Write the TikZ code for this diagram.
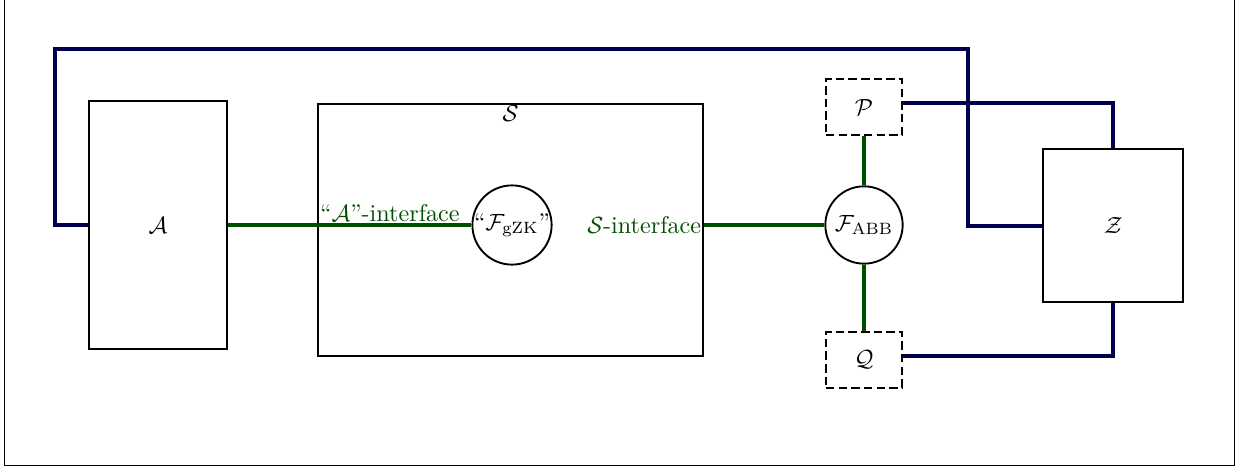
\documentclass[tikz,border=0pt]{standalone}
\usepackage{tikz}
\usetikzlibrary{positioning}

\definecolor{ifacegreen}{RGB}{0,78,0}
\definecolor{envblue}{RGB}{0,0,78}

\begin{document}
\begin{tikzpicture}[
  font=\fontsize{10.3pt}{12.4pt}\selectfont,
  box/.style={draw, thick, minimum width=#1},
  dbox/.style={draw, thick, dash pattern=on 3.6pt off 1.8pt, minimum width=1.14cm, minimum height=0.84cm},
  func/.style={draw, thick, circle, inner sep=0pt, minimum size=1.16cm},
  link/.style={ultra thick, draw=ifacegreen},
  env/.style={ultra thick, draw=envblue},
  iface/.style={text=ifacegreen, inner sep=1pt}]
\useasboundingbox (0,0) rectangle (18.6,7.035);
\draw (0.06,0.06) rectangle (18.51,7.06);

\node[box=2.07cm, minimum height=3.73cm] (A) at (2.37,3.66) {$\mathcal{A}$};
\node[box=5.77cm, minimum height=3.78cm] (S) at (7.66,3.585) {};
\node[anchor=north, inner sep=1pt] (Slabel) at (S.north) {$\mathcal{S}$};
\node[func] (gzk) at (7.68,3.66) {``$\mathcal{F}_{\mathrm{gZK}}$''};
\node[func] (abb) at (12.96,3.66) {$\mathcal{F}_{\mathrm{ABB}}$};
\node[dbox] (P) at (12.96,5.43) {$\mathcal{P}$};
\node[dbox] (Q) at (12.96,1.64) {$\mathcal{Q}$};
\node[box=2.1cm, minimum height=2.3cm] (Z) at (16.7,3.65) {$\mathcal{Z}$};

\coordinate (topleft) at (0.83,6.3);
\coordinate (topright) at (14.52,6.3);

% environment wires
\draw[env] (A.west) -| (topleft) -- (topright) |- (Z.west);
\draw[env] ([yshift=1.7pt]P.east) -| (Z.north);
\draw[env] ([yshift=1.7pt]Q.east) -| (Z.south);

% interfaces
\draw[link] (A.east) -- (gzk.west);
\draw[link] (A.east -| S.east) -- (abb.west);
\draw[link] (P) -- (abb);
\draw[link] (abb) -- (Q);

\node[iface, anchor=south west] (alabel) at (A.east -| S.west) {``$\mathcal{A}$''-interface};
\node[iface, anchor=east] (slabel) at (A.east -| S.east) {$\mathcal{S}$-interface};

\end{tikzpicture}
\end{document}
